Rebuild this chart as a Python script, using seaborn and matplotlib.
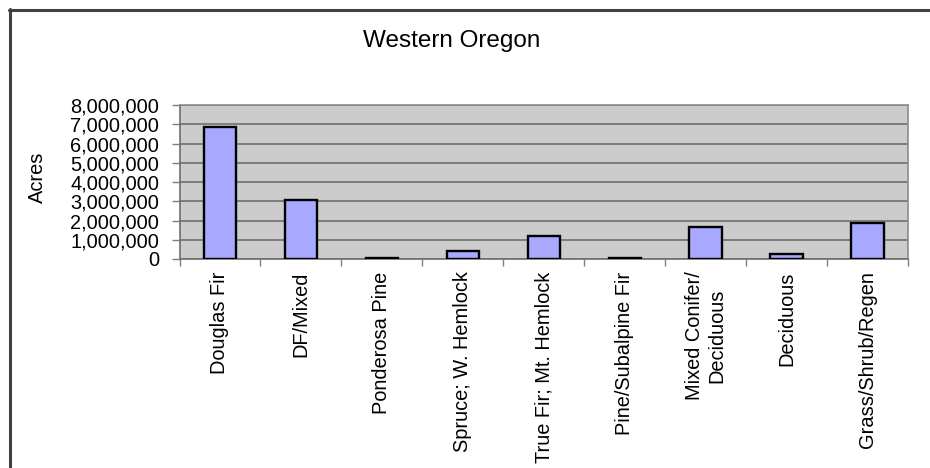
import matplotlib
matplotlib.use("Agg")
import matplotlib.pyplot as plt
from matplotlib.lines import Line2D
from matplotlib.ticker import FuncFormatter, FixedLocator
import seaborn as sns
import pandas as pd

# Forest cover types and their area
categories = [
    "Douglas Fir", "DF/Mixed", "Ponderosa Pine", "Spruce; W. Hemlock",
    "True Fir; Mt. Hemlock", "Pine/Subalpine Fir", "Mixed Conifer/\nDeciduous",
    "Deciduous", "Grass/Shrub/Regen",
]
acres = [6840000, 3060000, 50000, 420000, 1190000, 70000, 1680000, 260000, 1890000]
y_ticks = [0, 1000000, 2000000, 3000000, 4000000, 5000000, 6000000, 7000000, 8000000]

df = pd.DataFrame({"cover": categories, "acres": acres})

sns.set_theme(style="white")
plt.rcParams["font.family"] = ["Liberation Sans", "DejaVu Sans"]

fig = plt.figure(figsize=(9.3, 4.68), dpi=100)
ax = fig.add_axes([179.5 / 930, 1 - 259 / 468, (908 - 179.5) / 930, (259 - 105) / 468])
ax.set_facecolor("#CCCCCC")

sns.barplot(data=df, x="cover", y="acres", ax=ax, color="#A8A8FF",
            edgecolor="black", linewidth=1.7, width=0.4, saturation=1, zorder=3)

ax.set_xlim(-0.5, len(categories) - 0.5)
ax.set_ylim(y_ticks[0], y_ticks[-1])
ax.yaxis.set_major_locator(FixedLocator(y_ticks))
ax.yaxis.set_major_formatter(FuncFormatter(lambda v, p: f"{int(v):,}"))
ax.grid(axis="y", color="#767676", linewidth=1.3, zorder=1)
ax.set_axisbelow(True)

# category labels without ticks; tick marks between categories
ax.set_xticks(range(len(categories)))
ax.set_xticklabels(categories, rotation=90, ha="center", va="top",
                   multialignment="center", fontsize=14.4, color="black")
ax.set_xticks([i - 0.5 for i in range(len(categories) + 1)], minor=True)
ax.tick_params(axis="x", which="major", length=0, pad=9)
ax.tick_params(axis="x", which="minor", length=5, width=1, color="#7F7F7F",
               direction="out", bottom=True)
ax.tick_params(axis="y", which="major", length=6, width=1, color="#7F7F7F",
               direction="out", left=True, labelsize=14.4, labelcolor="black", pad=8.5)

for side in ["top", "right"]:
    ax.spines[side].set_color("#8C8C8C")
    ax.spines[side].set_linewidth(1.2)
ax.spines["left"].set_color("#6E6E6E")
ax.spines["left"].set_linewidth(1.2)
ax.spines["bottom"].set_color("#6E6E6E")
ax.spines["bottom"].set_linewidth(1.2)

ax.set_xlabel("")
ax.set_ylabel("")
fig.text(37 / 930, 1 - 177 / 468, "Acres", rotation=90, ha="center", va="center",
         fontsize=14.4, color="black")
fig.text(452 / 930, 1 - 41 / 468, "Western Oregon", ha="center", va="center",
         fontsize=17.5, color="black")

# chart frame
fig.add_artist(Line2D([9 / 930, 1.0], [1 - 9.5 / 468, 1 - 9.5 / 468],
                      transform=fig.transFigure, color="#404040", linewidth=2.2))
fig.add_artist(Line2D([10 / 930, 10 / 930], [0.0, 1 - 8.5 / 468],
                      transform=fig.transFigure, color="#404040", linewidth=2.2))

fig.savefig("out.png", dpi=100, facecolor="white")
